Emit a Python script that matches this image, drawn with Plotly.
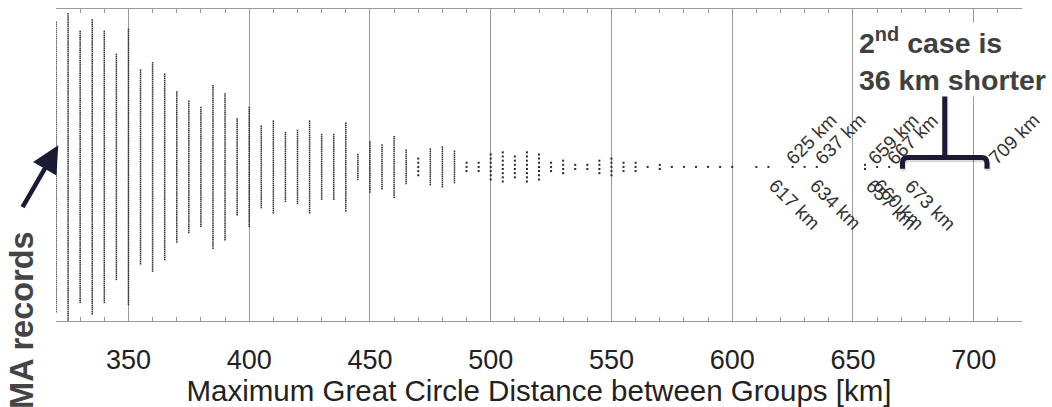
import plotly.graph_objects as go

# Pairs per 5-km bin of maximum great-circle distance (bin start, km)
bin_start = list(range(320, 615, 5))
bin_count = [140, 148, 131, 142, 131, 109, 133, 94, 101, 90,
             73, 64, 58, 79, 71, 47, 58, 40, 45, 34,
             36, 45, 32, 32, 43, 13, 25, 22, 30, 17,
             5, 18, 20, 16, 3, 3, 7, 8, 6, 8,
             7, 3, 4, 2, 2, 4, 5, 3, 3, 1,
             2, 1, 1, 1, 1, 1, 1, 0, 1]

# Individually labelled longest cases (km) and which side the label sits on
long_km = [617, 625, 634, 637, 657, 659, 660, 667, 673, 709]
long_side = ["below", "above", "below", "above", "below",
             "above", "below", "above", "below", "above"]

W, H = 1052, 407
M_L, M_R, M_T, M_B = 56, 30, 8, 74
PX = 2.17            # pixels per vertical dot unit
CENTER = 172.5       # pixel row of the column centres
y_lo = -(H - M_B - CENTER) / PX
y_hi = (CENTER - M_T) / PX

counts = dict(zip(bin_start, bin_count))
for v in long_km:
    b = int(v // 5 * 5)
    counts[b] = counts.get(b, 0) + 1

dense_x, dense_y, sparse_x, sparse_y = [], [], [], []
for b in sorted(counts):
    n = counts[b]
    step = 2 if n <= 8 else 1
    for i in range(n):
        y = step * (i - (n - 1) / 2)
        if step == 1:
            dense_x.append(b); dense_y.append(y)
        else:
            sparse_x.append(b); sparse_y.append(y)

FONT = "Liberation Sans, Arial, Helvetica, sans-serif"
INK = "#1b1a35"

fig = go.Figure()
fig.add_trace(go.Scatter(
    x=dense_x, y=dense_y, mode="markers",
    marker=dict(symbol="square", size=1.5, color="#2a2a2a", line=dict(width=0)),
    hoverinfo="skip", showlegend=False,
))
fig.add_trace(go.Scatter(
    x=sparse_x, y=sparse_y, mode="markers",
    marker=dict(symbol="square", size=2, color="#2a2a2a", line=dict(width=0)),
    hoverinfo="skip", showlegend=False,
))

annotations = []
for v, side in zip(long_km, long_side):
    if side == "above":
        annotations.append(dict(x=v, y=-4.5 / PX, xref="x", yref="y", text=f"{v} km",
                                showarrow=False, textangle=-45, xanchor="left", yanchor="bottom",
                                xshift=-14, font=dict(family=FONT, size=19, color="#333333")))
    else:
        annotations.append(dict(x=v, y=-6 / PX, xref="x", yref="y", text=f"{v} km",
                                showarrow=False, textangle=45, xanchor="left", yanchor="top",
                                xshift=-11, font=dict(family=FONT, size=19, color="#333333")))

# note box
annotations.append(dict(x=652, y=(H - M_B - 22) / (H - M_T - M_B), xref="x", yref="paper",
                        text="<b>2<sup>nd</sup> case is<br>36 km shorter</b>", align="left",
                        showarrow=False, xanchor="left", yanchor="top", bgcolor="white",
                        borderpad=0, font=dict(family=FONT, size=28.5, color="#404040")))

# arrow pointing at the first column
annotations.append(dict(x=320.95, y=22.5 / PX, xref="x", yref="y", text="", showarrow=True,
                        ax=-36.6, ay=63.3, arrowhead=2, arrowsize=1.2, arrowwidth=4.5,
                        arrowcolor=INK))

# vertical side caption (runs off the bottom edge)
annotations.append(dict(x=(22.5 - M_L) / (W - M_L - M_R), y=(H - M_B - 238) / (H - M_T - M_B),
                        xref="paper", yref="paper", text="<b>LMA records</b>", textangle=-90,
                        showarrow=False, xanchor="center", yanchor="top",
                        font=dict(family=FONT, size=32.5, color="#444444")))

# bracket marking the gap between the two longest cases
def bracket_path(x0, x1, y_leg, y_bar, y_top, rx=2.2, ry=2.6):
    xm = (x0 + x1) / 2
    return (f"M {x0},{y_leg} L {x0},{y_bar - ry} Q {x0},{y_bar} {x0 + rx},{y_bar} "
            f"L {x1 - rx},{y_bar} Q {x1},{y_bar} {x1},{y_bar - ry} L {x1},{y_leg} "
            f"M {xm},{y_bar} L {xm},{y_top}")

shapes = [
    dict(type="path", xref="x", yref="y",
         path=bracket_path(670 + 1.0, 705 + 1.0, -0.92 - 1.0, 4.5 - 1.0, 34.3),
         line=dict(color="rgba(0,0,0,0.15)", width=5)),
    dict(type="path", xref="x", yref="y",
         path=bracket_path(670.5, 705.5, -0.92, 4.5, 34.3),
         line=dict(color=INK, width=5)),
]

fig.update_layout(
    width=W, height=H,
    margin=dict(l=M_L, r=M_R, t=M_T, b=M_B, pad=0),
    paper_bgcolor="white", plot_bgcolor="white",
    font=dict(family=FONT, color="#222222"),
    annotations=annotations, shapes=shapes,
    xaxis=dict(range=[320, 720], tick0=0, dtick=50, showgrid=True, gridcolor="#9a9a9a",
               gridwidth=1.3, zeroline=False, showline=True, linecolor="#9a9a9a", linewidth=1.3,
               mirror="ticks", ticks="inside", ticklen=4, tickcolor="#9a9a9a", tickwidth=1.2,
               ticklabelstandoff=14,
               minor=dict(dtick=10, ticks="inside", ticklen=4, tickcolor="#9a9a9a",
                          tickwidth=1.2, showgrid=False),
               tickfont=dict(family=FONT, size=27, color="#222222"),
               title=dict(text="Maximum Great Circle Distance between Groups [km]",
                          font=dict(family=FONT, size=29.5, color="#222222"), standoff=4)),
    yaxis=dict(range=[y_lo, y_hi], visible=False, showgrid=False, zeroline=False),
)

fig.write_html("out.html")
